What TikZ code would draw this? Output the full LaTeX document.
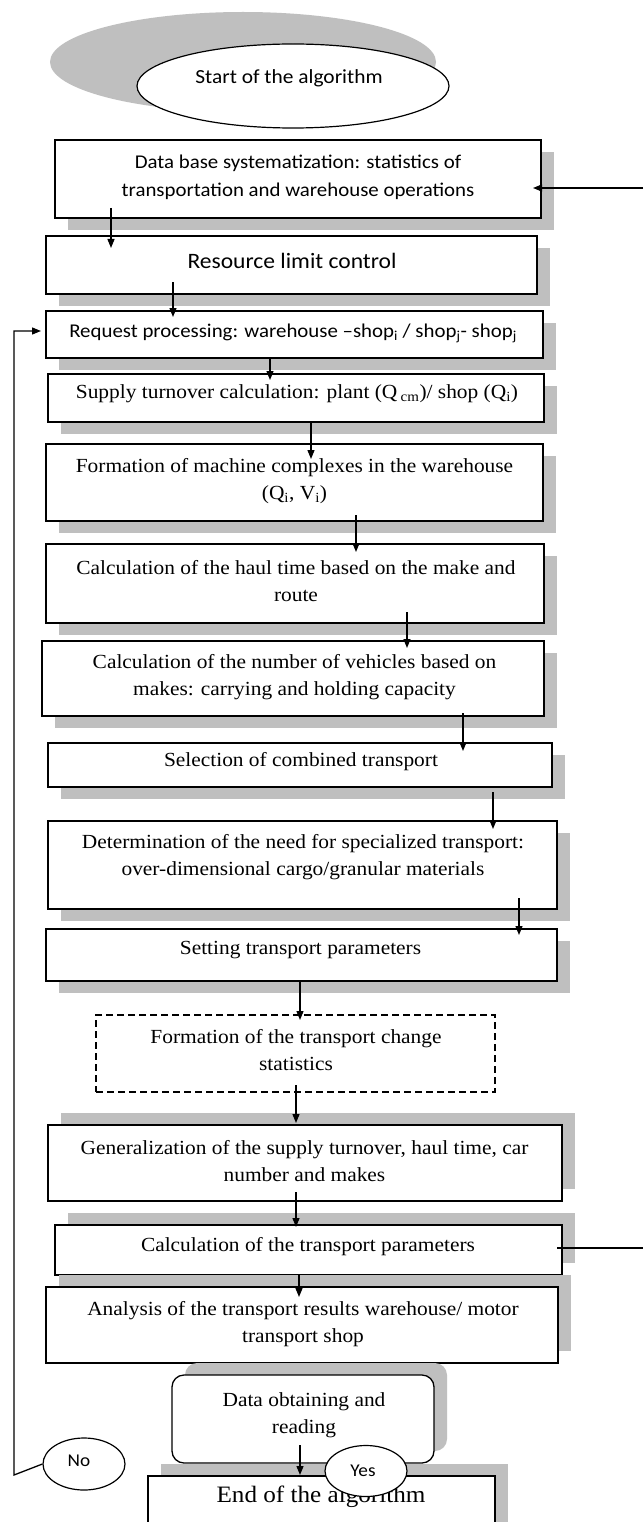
\documentclass[tikz,border=0pt]{standalone}
\usepackage{fontspec}
\setmainfont{Liberation Serif}[FakeStretch=1.07]
\newfontfamily\calfont{Carlito}[FakeStretch=1.07]
\usetikzlibrary{arrows.meta,shapes.geometric,shadows}
\definecolor{shadowgray}{RGB}{191,191,191}
\begin{document}
\begin{tikzpicture}[x=1pt,y=-1pt,
  boxsty/.style={draw=black, line width=1.5pt, fill=white, rectangle, inner sep=0pt, outer sep=0pt},
  shd/.style={drop shadow={shadow xshift=13pt, shadow yshift=-12pt, fill=shadowgray, opacity=1}},
  shdup/.style={drop shadow={shadow xshift=13pt, shadow yshift=12pt, fill=shadowgray, opacity=1}},
  txt/.style={align=center, inner sep=0pt, font=\fontsize{20}{27.5}\selectfont},
  stxt/.style={align=center, inner sep=0pt, font=\calfont\fontsize{19.5}{28}\selectfont},
  oval/.style={ellipse, draw=black, line width=1.2pt, fill=white, inner sep=0pt},
  arr/.style={draw=black, line width=1.3pt, -{Triangle[length=9pt,width=7pt]}},
  plain/.style={draw=black, line width=1.3pt}
]
\useasboundingbox (0,0) rectangle (643,1522);
\clip (0,0) rectangle (643,1522);
\fill[white] (0,0) rectangle (643,1522);

% start
\fill[shadowgray] (243,62) ellipse [x radius=193pt, y radius=50pt];
\node[oval, minimum width=312pt, minimum height=84pt] (st) at (293,86) {};
\node[stxt, font=\calfont\fontsize{20}{28}\selectfont] (tst) at (289,78) {Start of the algorithm};

% boxes
\node[boxsty, shd, minimum width=486pt, minimum height=78pt] (b1) at (298,179) {};
\node[boxsty, shd, minimum width=491pt, minimum height=58pt] (b2) at (291.5,265) {};
\node[boxsty, shd, minimum width=497pt, minimum height=47pt] (b3) at (294.5,334.5) {};
\node[boxsty, shd, minimum width=496pt, minimum height=48pt] (b4) at (296,398) {};
\node[boxsty, shd, minimum width=497pt, minimum height=77pt] (b5) at (294.5,482.5) {};
\node[boxsty, shd, minimum width=498pt, minimum height=79pt] (b6) at (295,583.5) {};
\node[boxsty, shd, minimum width=502pt, minimum height=75pt] (b7) at (293,678.5) {};
\node[boxsty, shd, minimum width=504pt, minimum height=44pt] (b8) at (300,765) {};
\node[boxsty, shd, minimum width=509pt, minimum height=88pt] (b9) at (302.5,865) {};
\node[boxsty, shd, minimum width=511pt, minimum height=52pt] (b10) at (301.5,955) {};
\node[boxsty, dash pattern=on 7pt off 4pt, line width=1.3pt, minimum width=399pt, minimum height=77pt] (b11) at (295.5,1053.5) {};
\node[boxsty, shdup, minimum width=514pt, minimum height=76pt] (b12) at (305,1163) {};
\node[boxsty, shdup, minimum width=507pt, minimum height=50pt] (b13) at (308.5,1250) {};
\node[boxsty, shdup, minimum width=512pt, minimum height=76pt] (b14) at (302,1325) {};
\node[boxsty, shdup, rounded corners=12pt, line width=1.3pt, minimum width=262pt, minimum height=88pt] (b15) at (303,1419) {};
\node[boxsty, shdup, minimum width=347pt, minimum height=80pt] (b16) at (321.5,1516) {};

% texts
\node[stxt] (t1) at (298,177) {Data base systematization: statistics of\\transportation and warehouse operations};
\node[stxt, font=\calfont\fontsize{22}{28}\selectfont] (t2) at (292,261) {Resource limit control};
\node[stxt] (t3) at (293,333) {Request processing: warehouse –shop\textsubscript{i} / shop\textsubscript{j}- shop\textsubscript{j}};
\node[txt] (t4) at (297,394) {Supply turnover calculation: plant (Q\,\textsubscript{cm})/ shop (Q\textsubscript{i})};
\node[txt] (t5) at (294.5,481) {Formation of machine complexes in the warehouse\\(Q\textsubscript{i}, V\textsubscript{i})};
\node[txt] (t6) at (296,581) {Calculation of the haul time based on the make and\\route};
\node[txt] (t7) at (294.5,677) {Calculation of the number of vehicles based on\\makes: carrying and holding capacity};
\node[txt] (t8) at (301,762) {Selection of combined transport};
\node[txt] (t9) at (303,857) {Determination of the need for specialized transport:\\over-dimensional cargo/granular materials};
\node[txt] (t10) at (300.5,950) {Setting transport parameters};
\node[txt] (t11) at (296,1050) {Formation of the transport change\\statistics};
\node[txt] (t12) at (304.5,1161) {Generalization of the supply turnover, haul time, car\\number and makes};
\node[txt] (t13) at (308,1247) {Calculation of the transport parameters};
\node[txt] (t14) at (303,1324) {Analysis of the transport results warehouse/ motor\\transport shop};
\node[txt] (t15) at (304,1415) {Data obtaining and\\reading};
\node[txt, font=\fontsize{23.5}{28}\selectfont] (t16) at (321,1497) {End of the algorithm};

% vertical arrows
\draw[arr, shorten <=-10pt, shorten >=-12pt] (111,0 |- b1.south) -- (111,0 |- b2.north);
\draw[arr, shorten <=-12pt, shorten >=-6pt] (173,0 |- b2.south) -- (173,0 |- b3.north);
\draw[arr, shorten >=-6pt] (270,0 |- b3.south) -- (270,0 |- b4.north);
\draw[arr, shorten >=-15pt] (311,0 |- b4.south) -- (311,0 |- b5.north);
\draw[arr, shorten <=-6pt, shorten >=-8pt] (356,0 |- b5.south) -- (356,0 |- b6.north);
\draw[arr, shorten <=-11pt, shorten >=-7pt] (407,0 |- b6.south) -- (407,0 |- b7.north);
\draw[arr, shorten <=-3pt, shorten >=-8pt] (463,0 |- b7.south) -- (463,0 |- b8.north);
\draw[arr, shorten <=5pt, shorten >=-8pt] (493,0 |- b8.south) -- (493,0 |- b9.north);
\draw[arr, shorten <=-11pt, shorten >=-6pt] (519,0 |- b9.south) -- (519,0 |- b10.north);
\draw[arr, shorten >=-5pt] (300,0 |- b10.south) -- (300,0 |- b11.north);
\draw[arr, shorten <=-7pt, shorten >=2pt] (296,0 |- b11.south) -- (296,0 |- b12.north);
\draw[arr, shorten <=-9pt, shorten >=-2pt] (296,0 |- b12.south) -- (296,0 |- b13.north);
\draw[arr, shorten >=-10pt] (299,0 |- b13.south) -- (299,0 |- b14.north);
\draw[arr, shorten <=-18pt, shorten >=1pt] (300,0 |- b15.south) -- (300,0 |- b16.north);

% right side connectors
\coordinate (r1) at (643,188);
\coordinate (r2) at (643,1248);
\draw[arr, shorten >=-8pt] (r1) -- (r1 -| b1.east);
\draw[plain, shorten <=-5pt] (r2 -| b13.east) -- (r2);

% No / Yes
\node[oval, minimum width=82pt, minimum height=52pt] (no) at (84,1464) {};
\node[stxt, font=\calfont\fontsize{18}{22}\selectfont] (tno) at (79,1461) {No};
\node[oval, minimum width=82pt, minimum height=51pt] (yes) at (366,1471) {};
\node[stxt, font=\calfont\fontsize{18}{22}\selectfont] (tyes) at (363,1471) {Yes};

% loop back
\coordinate (lp1) at (14,1475);
\coordinate (lp2) at (14,331);
\draw[arr, shorten >=5pt] (no.west) -- (lp1) -- (lp2) -- (b3.west |- lp2);
\end{tikzpicture}
\end{document}
